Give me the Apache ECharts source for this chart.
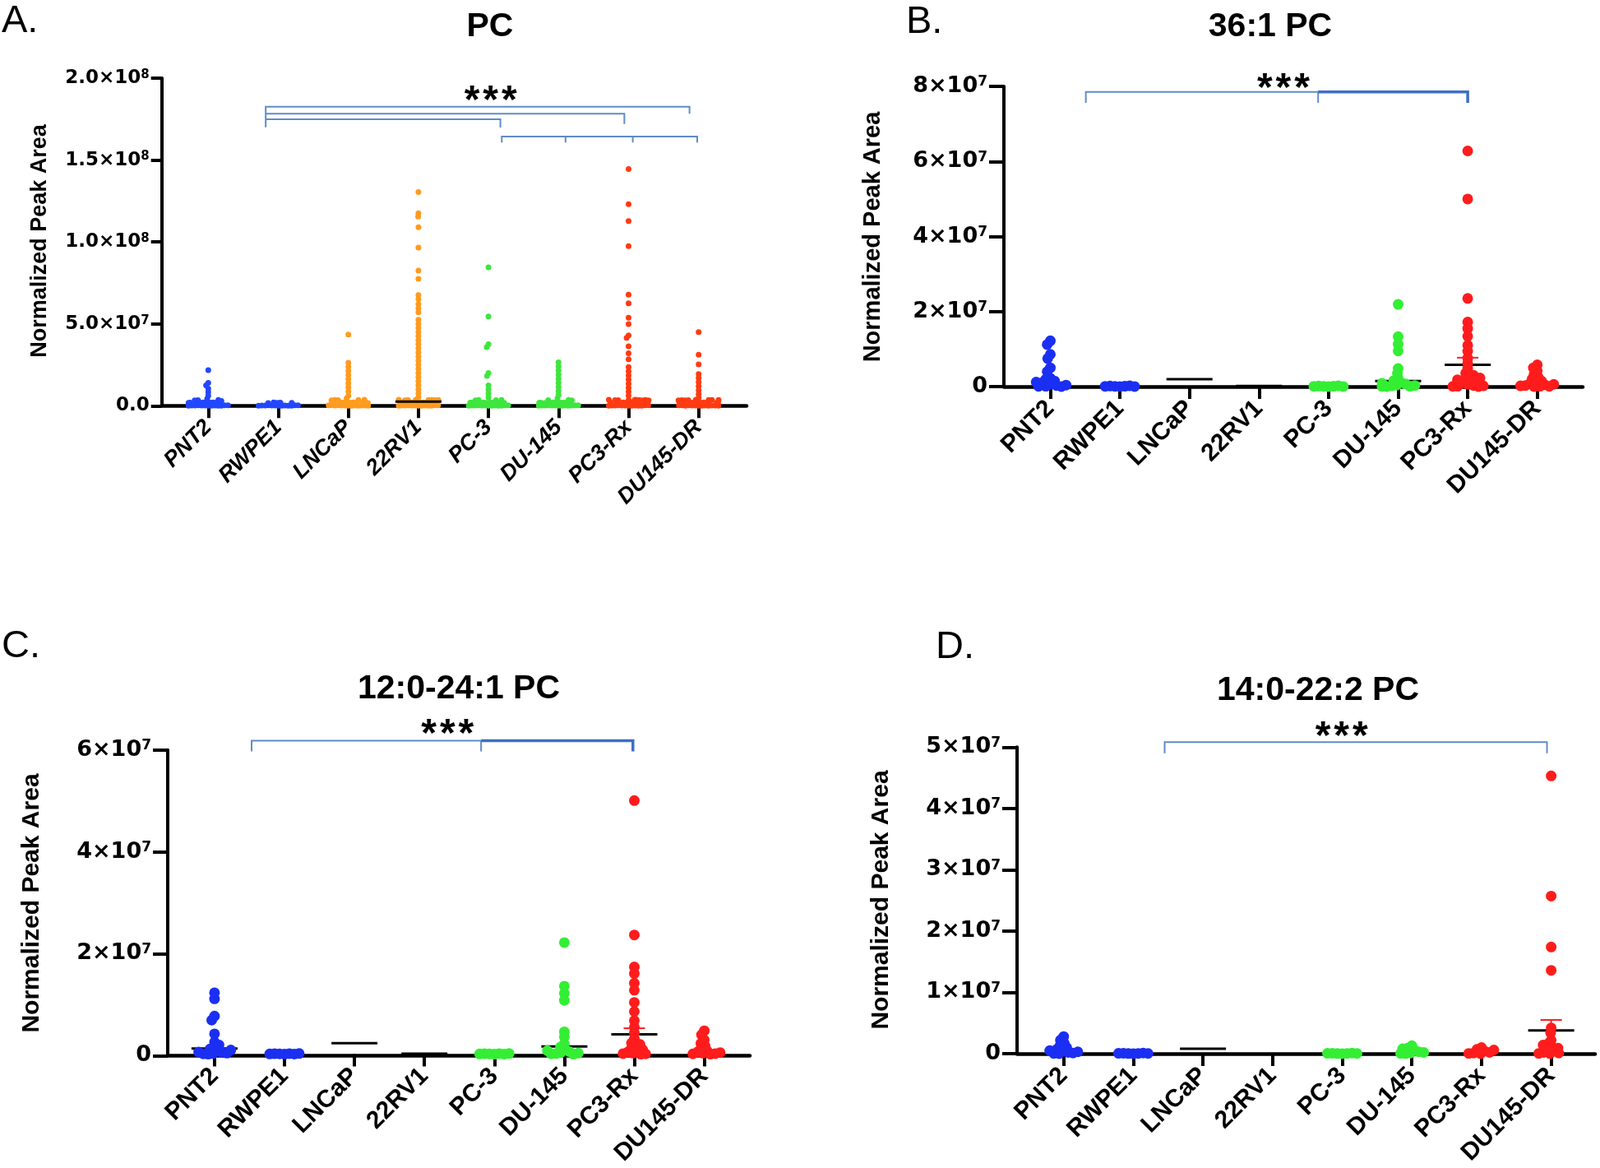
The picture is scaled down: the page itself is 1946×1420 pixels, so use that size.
<!DOCTYPE html>
<html><head><meta charset="utf-8">
<script src="https://cdn.jsdelivr.net/npm/echarts@6/dist/echarts.min.js"></script>
<style>html,body{margin:0;padding:0;background:#fff}#c{width:1946px;height:1420px}</style>
</head><body><div id="c"></div>
<script>
const categories = ['PNT2','RWPE1','LNCaP','22RV1','PC-3','DU-145','PC3-Rx','DU145-DR'];

// ---- Panel A: PC ----
const A_PNT2 = [21.7e6,14.0e6,12.5e6,10.5e6,8.3e6,6.2e6,4.3e6,
  0,0.1e6,0.05e6,0.2e6,0.15e6,0.02e6,0.25e6,0.08e6,0.12e6,0.3e6,0.18e6,0.22e6,0.04e6,
  1.8e6,1.9e6,1.7e6,2.0e6,1.85e6,1.75e6,1.95e6,1.65e6,2.05e6,1.82e6,1.88e6,1.72e6,
  3.4e6,3.6e6,2.9e6,3.3e6];
const A_RWPE1 = [0,0.1e6,0.05e6,0.2e6,0.15e6,0.02e6,0.25e6,0.08e6,0.12e6,0.3e6,0.18e6,0.22e6,0.04e6,
  1.8e6,1.6e6,1.9e6,1.7e6,2.0e6,1.75e6];
const A_LNCaP = [43.5e6,26.2e6,23.7e6,21.2e6,18.7e6,16.2e6,13.7e6,11.2e6,8.7e6,6.2e6,4.5e6,
  0,0.12e6,0.06e6,0.2e6,0.15e6,0.03e6,0.26e6,0.09e6,0.1e6,0.3e6,0.18e6,0.22e6,0.05e6,
  1.8e6,1.92e6,1.7e6,2.0e6,1.86e6,1.75e6,1.96e6,1.66e6,2.05e6,1.8e6,1.9e6,1.73e6,
  3.4e6,3.6e6,3.5e6,3.3e6,3.7e6];
const A_22RV1 = [130.5e6,117.5e6,115.5e6,109e6,96.5e6,82.5e6,77.5e6,67.5e6,65e6,62e6,59.5e6,57e6,52.5e6,50e6,47.5e6,45e6,42.5e6,40e6,37.5e6,35e6,32.5e6,30e6,27.5e6,25e6,22.5e6,20e6,17.5e6,15e6,12.5e6,10e6,7.5e6,5.2e6,
  0,0.1e6,0.05e6,0.2e6,0.15e6,0.02e6,0.25e6,0.08e6,0.12e6,0.3e6,0.18e6,0.22e6,0.04e6,
  1.8e6,1.9e6,1.7e6,2.0e6,1.85e6,1.75e6,1.95e6,1.65e6,2.05e6,1.82e6,1.88e6,1.72e6,
  3.4e6,3.6e6,3.5e6,3.3e6,3.7e6,3.45e6,3.55e6,3.25e6,3.65e6,3.5e6];
const A_PC3 = [84.5e6,54.5e6,37.5e6,35.8e6,20e6,18.2e6,12.5e6,10e6,7.5e6,5e6,
  0,0.11e6,0.05e6,0.21e6,0.14e6,0.02e6,0.24e6,0.08e6,0.13e6,0.3e6,0.17e6,0.23e6,0.04e6,
  1.8e6,1.9e6,1.7e6,2.0e6,1.84e6,1.76e6,1.94e6,1.65e6,2.04e6,1.81e6,1.87e6,1.72e6,
  3.4e6,3.6e6,3.3e6,3.5e6];
const A_DU145 = [26.5e6,24e6,21.5e6,19e6,16.5e6,14e6,11.5e6,9e6,6.5e6,4.6e6,
  0,0.1e6,0.06e6,0.2e6,0.16e6,0.02e6,0.25e6,0.09e6,0.12e6,0.29e6,0.18e6,0.22e6,0.04e6,
  1.8e6,1.9e6,1.7e6,2.0e6,1.85e6,1.74e6,1.95e6,1.66e6,2.05e6,1.83e6,1.88e6,1.71e6,
  3.4e6,3.6e6,3.3e6];
const A_PC3Rx = [144.5e6,123e6,112.7e6,97.4e6,67.8e6,62.5e6,53.7e6,49.8e6,43e6,41.4e6,36.3e6,32e6,28.4e6,23.6e6,21e6,18.5e6,16e6,13.5e6,11e6,8.5e6,6.2e6,
  0,0.1e6,0.05e6,0.2e6,0.15e6,0.02e6,0.25e6,0.08e6,0.12e6,0.3e6,0.18e6,0.22e6,0.04e6,
  1.8e6,1.9e6,1.7e6,2.0e6,1.85e6,1.75e6,1.95e6,1.65e6,2.05e6,1.82e6,1.88e6,1.72e6,
  3.4e6,3.6e6,3.5e6,3.3e6,3.7e6,3.45e6,3.55e6,3.25e6,3.65e6,3.5e6];
const A_DU145DR = [45e6,31.2e6,25.3e6,19.4e6,17e6,14.5e6,12e6,9.5e6,7e6,4.8e6,
  0,0.1e6,0.05e6,0.19e6,0.15e6,0.03e6,0.25e6,0.08e6,0.12e6,0.3e6,0.17e6,0.22e6,0.04e6,
  1.8e6,1.9e6,1.7e6,2.0e6,1.85e6,1.75e6,1.95e6,1.65e6,2.05e6,1.82e6,1.88e6,1.72e6,
  3.4e6,3.6e6,3.5e6,3.3e6,3.7e6,3.45e6,3.55e6,3.25e6];
const A_mean = [null,null,null,2.5e6,null,null,null,null];
const A_sem  = [null,null,null,null,null,null,null,null];

// ---- Panel B: 36:1 PC ----
const B_PNT2 = [12.2e6,11.2e6,8.6e6,7.5e6,5.0e6,4.0e6,2.2e6,1.9e6,1.5e6,1.0e6,0.6e6,0.3e6,0.1e6,0,0.05e6,0.4e6,1.2e6,0.8e6];
const B_RWPE1 = [0,0.05e6,0.1e6,0.15e6,0.2e6,0.02e6,0.08e6];
const B_LNCaP = [];
const B_22RV1 = [];
const B_PC3 = [0,0.05e6,0.1e6,0.15e6,0.2e6,0.02e6,0.08e6];
const B_DU145 = [21.9e6,13.3e6,11.3e6,9.5e6,4.8e6,3.5e6,2.2e6,1.6e6,1.1e6,0.7e6,0.4e6,0.2e6,0,0.1e6,0.05e6,0.3e6,0.9e6];
const B_PC3Rx = [62.8e6,50e6,23.5e6,17.2e6,15.5e6,13.4e6,11e6,9.4e6,7.6e6,6.2e6,4.8e6,3.6e6,2.6e6,2.0e6,1.5e6,1.0e6,0.6e6,0.3e6,0.1e6,0,0.05e6,0.2e6,0.8e6,1.3e6,1.8e6,2.3e6,3.0e6,0.4e6];
const B_DU145DR = [5.8e6,5.0e6,4.2e6,3.2e6,2.5e6,2.0e6,1.5e6,1.1e6,0.8e6,0.5e6,0.3e6,0.1e6,0,0.05e6,0.2e6,0.6e6];
const B_mean = [null,null,2.0e6,0.15e6,null,1.5e6,5.8e6,null];
const B_sem  = [null,null,null,null,null,null,1.9e6,null];

// ---- Panel C: 12:0-24:1 PC ----
const C_PNT2 = [12.1e6,10.9e6,7.5e6,6.7e6,4.0e6,2.4e6,1.4e6,1.0e6,0.6e6,0.3e6,0.1e6,0,0.05e6,0.2e6,0.4e6,0.8e6,1.8e6];
const C_RWPE1 = [0,0.05e6,0.1e6,0.02e6,0.08e6,0.12e6,0.04e6];
const C_LNCaP = [];
const C_22RV1 = [];
const C_PC3 = [0,0.05e6,0.1e6,0.02e6,0.08e6,0.12e6,0.04e6];
const C_DU145 = [22e6,13.4e6,12.0e6,10.6e6,4.4e6,3.4e6,2.0e6,1.4e6,0.9e6,0.5e6,0.3e6,0.1e6,0,0.05e6,0.2e6,0.7e6];
const C_PC3Rx = [50e6,23.5e6,17.2e6,15.9e6,14.0e6,12.6e6,10.2e6,8.4e6,6.6e6,5.3e6,4.2e6,3.0e6,2.2e6,1.6e6,1.1e6,0.7e6,0.4e6,0.2e6,0,0.1e6,0.05e6,0.9e6,1.9e6];
const C_DU145DR = [4.6e6,3.8e6,2.8e6,2.1e6,1.6e6,1.1e6,0.7e6,0.4e6,0.2e6,0,0.1e6,0.05e6,0.3e6];
const C_mean = [1.1e6,null,2.15e6,0.1e6,null,1.5e6,3.9e6,null];
const C_sem  = [null,null,null,null,null,null,1.2e6,null];

// ---- Panel D: 14:0-22:2 PC ----
const D_PNT2 = [2.8e6,2.2e6,1.7e6,1.3e6,1.0e6,0.7e6,0.4e6,0.2e6,0.1e6,0,0.05e6,0.3e6,0.5e6];
const D_RWPE1 = [0,0.02e6,0.05e6,0.08e6,0.1e6,0.03e6,0.06e6];
const D_LNCaP = [];
const D_22RV1 = [];
const D_PC3 = [0,0.02e6,0.05e6,0.08e6,0.1e6,0.03e6,0.06e6];
const D_DU145 = [1.3e6,0.9e6,0.6e6,0.3e6,0.1e6,0,0.05e6,0.2e6,0.8e6];
const D_PC3Rx = [1.0e6,0.7e6,0.4e6,0.2e6,0.1e6,0,0.05e6,0.6e6];
const D_DU145DR = [45.3e6,25.7e6,17.4e6,13.6e6,4.2e6,3.4e6,2.2e6,1.6e6,1.1e6,0.7e6,0.4e6,0.2e6,0,0.1e6,0.05e6,0.9e6,1.4e6];
const D_mean = [null,null,0.8e6,null,null,null,null,3.8e6];
const D_sem  = [null,null,null,null,null,null,null,1.7e6];

// ---- styling / layout ----
const colA = ['#2347ff','#2347ff','#ff9b1f','#ff9b1f','#3ee63e','#3ee63e','#ff3b12','#ff3b12'];
const colB = ['#1b2ff2','#1b2ff2','#ff9b1f','#ff9b1f','#34ee34','#34ee34','#ff1c1c','#ff1c1c'];
const THIN = '#5f8cc8', THICK = '#3d6fc2';

const panels = [
  {title:'PC', label:'A.', data:[A_PNT2,A_RWPE1,A_LNCaP,A_22RV1,A_PC3,A_DU145,A_PC3Rx,A_DU145DR], mean:A_mean, sem:A_sem,
   ymax:2e8, step:5e7, dec:1, outer:{left:196.7,top:95,width:711.3,height:398.3}, inner:{left:210.7,width:681.6},
   dot:4, border:3, jitter:50, colors:colA, italic:true, tickFs:23, supFs:15, lblFs:27, tickLen:13, meanTop:true,
   titlePos:[596,33], labelPos:[2,26], yTitlePos:[49,293], yTitleFs:27, stars:[4.03,191.5e6],
   brackets:[
     {c:THIN,w:2,p:[[0.82,170e6],[0.82,182.6e6],[6.87,182.6e6],[6.87,178.3e6]]},
     {c:THIN,w:2,p:[[0.82,178.3e6],[5.94,178.3e6],[5.94,172e6]]},
     {c:THIN,w:2,p:[[0.82,174.9e6],[4.17,174.9e6],[4.17,169.9e6]]},
     {c:THIN,w:2,p:[[4.19,160.7e6],[4.19,164.3e6],[6.98,164.3e6],[6.98,160.7e6]]},
     {c:THIN,w:2,p:[[5.10,164.3e6],[5.10,160.7e6]]},
     {c:THIN,w:2,p:[[6.06,164.3e6],[6.06,160.7e6]]}
   ]},
  {title:'36:1 PC', label:'B.', data:[B_PNT2,B_RWPE1,B_LNCaP,B_22RV1,B_PC3,B_DU145,B_PC3Rx,B_DU145DR], mean:B_mean, sem:B_sem,
   ymax:8e7, step:2e7, dec:0, outer:{left:1221,top:105,width:704,height:365}, inner:{left:1235.2,width:676.8},
   dot:6, border:7, jitter:44, colors:colB, italic:false, tickFs:27, supFs:17, lblFs:30, tickLen:18, meanTop:false,
   titlePos:[1545,33], labelPos:[1102,27], yTitlePos:[1062,288], yTitleFs:29, stars:[3.35,81.9e6],
   brackets:[
     {c:THIN,w:2,p:[[0.51,75.6e6],[0.51,78.5e6],[3.85,78.5e6]]},
     {c:THIN,w:2,p:[[3.85,75.6e6],[3.85,78.5e6]]},
     {c:THICK,w:3.5,p:[[3.85,78.5e6],[6.0,78.5e6],[6.0,75.6e6]]}
   ]},
  {title:'12:0-24:1 PC', label:'C.', data:[C_PNT2,C_RWPE1,C_LNCaP,C_22RV1,C_PC3,C_DU145,C_PC3Rx,C_DU145DR], mean:C_mean, sem:C_sem,
   ymax:6e7, step:2e7, dec:0, outer:{left:204,top:911.7,width:708,height:371.6}, inner:{left:218.35,width:680.8},
   dot:6, border:7, jitter:44, colors:colB, italic:false, tickFs:27, supFs:17, lblFs:30, tickLen:18, meanTop:false,
   titlePos:[558,838], labelPos:[2,786], yTitlePos:[39,1098], yTitleFs:30, stars:[3.33,64.8e6],
   brackets:[
     {c:THIN,w:2,p:[[0.53,59.7e6],[0.53,61.8e6],[3.81,61.8e6]]},
     {c:THIN,w:2,p:[[3.81,59.7e6],[3.81,61.8e6]]},
     {c:THICK,w:3.5,p:[[3.81,61.8e6],[5.98,61.8e6],[5.98,59.7e6]]}
   ]},
  {title:'14:0-22:2 PC', label:'D.', data:[D_PNT2,D_RWPE1,D_LNCaP,D_22RV1,D_PC3,D_DU145,D_PC3Rx,D_DU145DR], mean:D_mean, sem:D_sem,
   ymax:5e7, step:1e7, dec:0, outer:{left:1237,top:908.3,width:703,height:372.7}, inner:{left:1251.35,width:677.6},
   dot:6, border:7, jitter:44, colors:colB, italic:false, tickFs:27, supFs:17, lblFs:30, tickLen:18, meanTop:false,
   titlePos:[1603,840], labelPos:[1138,787], yTitlePos:[1072,1094], yTitleFs:30, stars:[3.99,53.2e6],
   brackets:[
     {c:THIN,w:2,p:[[1.45,49e6],[1.45,50.8e6],[6.94,50.8e6],[6.94,49e6]]}
   ]}
];

const grid = [], xAxis = [], yAxis = [], series = [], graphic = [];
const FONT = '"Liberation Sans", Arial, sans-serif';
const TFONT = '"DejaVu Sans", sans-serif';

// fractional category position -> pixel, through the axis scale
function toPx(api, x, y) {
  const a = api.coord([0, y]), b = api.coord([1, y]);
  return [a[0] + x * (b[0] - a[0]), a[1]];
}

panels.forEach((p, k) => {
  const go = 2*k, gi = 2*k+1;
  grid.push({left:p.outer.left, top:p.outer.top, width:p.outer.width, height:p.outer.height});
  grid.push({left:p.inner.left, top:p.outer.top, width:p.inner.width, height:p.outer.height});
  xAxis.push({type:'value', gridIndex:go, min:0, max:1, axisLine:{show:true, lineStyle:{color:'#000', width:4.5}},
    axisTick:{show:false}, axisLabel:{show:false}, splitLine:{show:false}});
  yAxis.push({type:'value', gridIndex:go, min:0, max:p.ymax, interval:p.step,
    axisLine:{show:true, lineStyle:{color:'#000', width:4}},
    axisTick:{show:true, length:p.tickLen, lineStyle:{color:'#000', width:4}},
    splitLine:{show:false},
    axisLabel:{margin:p.tickLen + 2, formatter:(v) => {
        if (v === 0) return '{m|' + (p.dec ? '0.0' : '0') + '}';
        const e = Math.floor(Math.log10(v) + 1e-9);
        const m = v / Math.pow(10, e);
        return '{m|' + m.toFixed(p.dec) + '×10}{e|' + e + '}';
      },
      rich:{m:{fontFamily:TFONT, fontWeight:'bold', fontSize:p.tickFs, color:'#000'},
            e:{fontFamily:TFONT, fontWeight:'bold', fontSize:p.supFs, color:'#000', verticalAlign:'top'}}}});
  xAxis.push({type:'category', gridIndex:gi, data:categories, jitter:p.jitter, jitterOverlap:false, jitterMargin:0,
    axisLine:{show:false}, axisTick:{show:true, alignWithLabel:true, length:15, lineStyle:{color:'#000', width:4}},
    axisLabel:{interval:0, rotate:45, margin:22, color:'#000', fontFamily:FONT, fontWeight:'bold',
      fontStyle:p.italic ? 'italic' : 'normal', fontSize:p.lblFs},
    splitLine:{show:false}});
  yAxis.push({type:'value', gridIndex:gi, min:0, max:p.ymax, interval:p.step, show:false});

  // dots (border widens the drawn dot beyond the layout size, so jittered dots overlap like the original)
  p.data.forEach((vals, ci) => {
    series.push({type:'scatter', name:categories[ci], xAxisIndex:gi, yAxisIndex:gi, clip:false, silent:true, z:3,
      symbol:'circle', symbolSize:p.dot,
      itemStyle:{color:p.colors[ci], borderColor:p.colors[ci], borderWidth:p.border, opacity:1},
      data: vals.map(v => [categories[ci], v])});
  });

  // means and SEM
  const mdata = [];
  p.mean.forEach((m, ci) => { if (m !== null) mdata.push([ci, m, p.sem[ci] === null ? 0 : p.sem[ci]]); });
  series.push({type:'custom', xAxisIndex:gi, yAxisIndex:gi, clip:false, silent:true, z:p.meanTop ? 4 : 2,
    data:mdata, renderItem:(params, api) => {
      const ci = api.value(0), m = api.value(1), s = api.value(2);
      const c = toPx(api, ci, m);
      const hw = 28;
      const ch = [{type:'line', shape:{x1:c[0]-hw, y1:c[1], x2:c[0]+hw, y2:c[1]}, style:{stroke:'#000', lineWidth:3}}];
      if (s > 0) {
        const t = toPx(api, ci, m + s);
        const col = p.colors[ci];
        ch.push({type:'line', shape:{x1:c[0], y1:c[1], x2:c[0], y2:t[1]}, style:{stroke:col, lineWidth:2}});
        ch.push({type:'line', shape:{x1:c[0]-13, y1:t[1], x2:c[0]+13, y2:t[1]}, style:{stroke:col, lineWidth:2}});
      }
      return {type:'group', children:ch};
    }});

  // significance brackets
  series.push({type:'custom', xAxisIndex:gi, yAxisIndex:gi, clip:false, silent:true, z:2,
    data:p.brackets.map(b => [0, b.p[0][1]]),
    renderItem:(params, api) => {
      const b = p.brackets[params.dataIndex];
      return {type:'polyline', shape:{points:b.p.map(q => toPx(api, q[0], q[1]))},
        style:{stroke:b.c, lineWidth:b.w, fill:null}};
    }});

  // stars
  series.push({type:'custom', xAxisIndex:gi, yAxisIndex:gi, clip:false, silent:true, z:5, data:[p.stars],
    renderItem:(params, api) => {
      const c = toPx(api, api.value(0), api.value(1));
      return {type:'text', x:c[0], y:c[1] + 12, style:{text:'{s|*}{s|*}{s|*}', align:'center', verticalAlign:'middle',
        rich:{s:{fontSize:48, fontWeight:'bold', fontFamily:FONT, fill:'#000', padding:[0,2]}}}};
    }});

  graphic.push({type:'text', x:p.titlePos[0], y:p.titlePos[1], silent:true,
    style:{text:p.title, fill:'#000', font:'bold 41px ' + FONT, align:'center', verticalAlign:'middle', textAlign:'center', textVerticalAlign:'middle'}});
  graphic.push({type:'text', x:p.labelPos[0], y:p.labelPos[1], silent:true,
    style:{text:p.label, fill:'#000', font:'47px ' + FONT, align:'left', verticalAlign:'middle', textAlign:'left', textVerticalAlign:'middle'}});
  graphic.push({type:'text', x:p.yTitlePos[0], y:p.yTitlePos[1], rotation:Math.PI/2, silent:true,
    style:{text:'Normalized Peak Area', fill:'#000', font:'bold ' + p.yTitleFs + 'px ' + FONT, align:'center', verticalAlign:'middle', textAlign:'center', textVerticalAlign:'middle'}});
});

const chart = echarts.init(document.getElementById('c'), null, {renderer:'canvas'});
chart.setOption({backgroundColor:'#fff', animation:false, grid, xAxis, yAxis, series, graphic});
</script>
</body></html>
